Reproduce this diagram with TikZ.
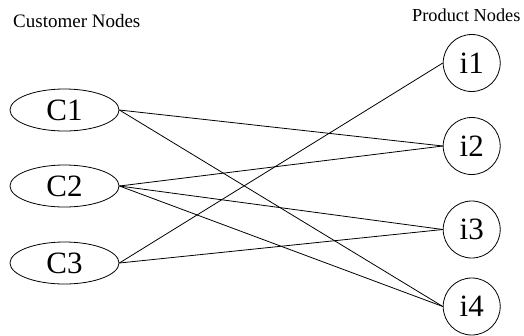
\documentclass[tikz,border=0pt]{standalone}
\usepackage{fontspec}
\setmainfont{Liberation Serif}
\usetikzlibrary{shapes.geometric}
\begin{document}
\begin{tikzpicture}[x=1pt,y=-1pt,
  cust/.style={draw,ellipse,line width=0.8pt,minimum width=109pt,minimum height=42pt,inner sep=0pt,font=\fontsize{31}{31}\selectfont},
  prod/.style={draw,circle,line width=0.8pt,minimum size=57pt,inner sep=0pt,font=\fontsize{31}{31}\selectfont},
  lbl/.style={anchor=base west,inner sep=0pt,font=\fontsize{19}{19}\selectfont},
  edge/.style={line width=0.8pt}]
\useasboundingbox (0,0) rectangle (524,335);
\node[lbl] (cl) at (13,27) {Customer Nodes};
\node[lbl,font=\fontsize{18.3}{18.3}\selectfont] (pl) at (412,21.7) {Product Nodes};
\node[cust] (c1) at (64.5,110) {C1};
\node[cust] (c2) at (64.5,186) {C2};
\node[cust] (c3) at (64.5,263) {C3};
\node[prod] (i1) at (471.7,63) {i1};
\node[prod] (i2) at (471.7,146) {i2};
\node[prod] (i3) at (471.7,229.5) {i3};
\node[prod] (i4) at (471.7,306.5) {i4};
\draw[edge] (c1.east) -- (i2.west);
\draw[edge] (c1.east) -- (i4.west);
\draw[edge] (c2.east) -- (i2.west);
\draw[edge] (c2.east) -- (i3.west);
\draw[edge] (c2.east) -- (i4.west);
\draw[edge] (c3.east) -- (i1.west);
\draw[edge] (c3.east) -- (i3.west);
\end{tikzpicture}
\end{document}
